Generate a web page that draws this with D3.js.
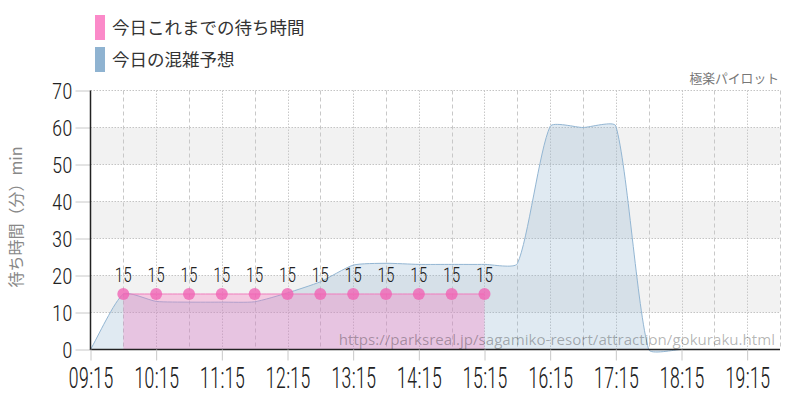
<!DOCTYPE html>
<html><head><meta charset="utf-8">
<script src="https://cdn.jsdelivr.net/npm/d3@7"></script>
<style>
body{margin:0;background:#fff}
svg{display:block}
.cond{font-family:"Roboto Condensed","Liberation Sans Narrow","DejaVu Sans Condensed",sans-serif}
.jp{font-family:"Noto Sans CJK JP","Noto Sans",sans-serif}
</style>
</head><body>
<svg id="c" width="800" height="400"></svg>
<script>
// ---- data ----
const forecastTimes = ["09:15","09:45","10:15","10:45","11:15","11:45","12:15","12:45","13:15","13:45","14:15","14:45","15:15","15:45","16:15","16:45","17:15","17:45","18:15","18:45","19:15","19:45"];
const forecastWait  = [0,15,13,12.8,12.8,12.9,15.3,18.3,22.8,23.3,23,23,23,23.2,60.3,60,60.4,0,0,0,0,0];
const actualTimes = ["09:45","10:15","10:45","11:15","11:45","12:15","12:45","13:15","13:45","14:15","14:45","15:15"];
const actualWait  = [15,15,15,15,15,15,15,15,15,15,15,15];
const xTickLabels = ["09:15","10:15","11:15","12:15","13:15","14:15","15:15","16:15","17:15","18:15","19:15"];
const gridTimes = ["09:45","10:15","10:45","11:15","11:45","12:15","12:45","13:15","13:45","14:15","14:45","15:15","15:45","16:15","16:45","17:15","17:45","18:15","18:45","19:15","19:45"];
const yTicks = [0,10,20,30,40,50,60,70];
const bands = [[10,20],[30,40],[50,60]];
const legendItems = ["今日これまでの待ち時間","今日の混雑予想"];
const legendColors = ["#fb8ac9","#8fb3d1"];
const yTitle = "待ち時間（分）min";
const brand = "極楽パイロット";
const urlText = "https://parksreal.jp/sagamiko-resort/attraction/gokuraku.html";

// ---- scales ----
const parse = d3.timeParse("%H:%M");
const L = 90.5, R = 780, T = 90.5, B = 349.5;
const x = d3.scaleTime().domain([parse("09:15"), parse("19:45")]).range([L, R]);
const y = d3.scaleLinear().domain([0, 70]).range([B, T]);
const TENSION = 0.2;

const svg = d3.select("#c");

// bands
svg.append("g").selectAll("rect").data(bands).join("rect")
  .attr("x", L).attr("width", R - L)
  .attr("y", d => y(d[1])).attr("height", d => y(d[0]) - y(d[1]))
  .attr("fill", "#f2f2f2");

// y axis ticks + labels
const yAxisG = svg.append("g").attr("transform", `translate(${L},0)`)
  .call(d3.axisLeft(y).tickValues(yTicks).tickSize(15).tickPadding(3).tickFormat(d3.format("d")));
yAxisG.select(".domain").remove();
yAxisG.selectAll(".tick line").attr("stroke", "#c8c8c8");
yAxisG.selectAll(".tick text").attr("class", "cond").attr("font-size", 21).attr("font-weight", 300).attr("fill", "#222")
  .attr("dy", null).attr("transform", "translate(0,8) scale(1,1.08)");

// horizontal grid (dotted)
svg.append("g").selectAll("line").data(yTicks).join("line")
  .attr("x1", L).attr("x2", R).attr("y1", d => y(d)).attr("y2", d => y(d))
  .attr("stroke", "#c4c4c4").attr("stroke-dasharray", "1.5,1.5");

// vertical grid
svg.append("g").selectAll("line").data(gridTimes).join("line")
  .attr("x1", d => Math.round(x(parse(d))) + 0.5).attr("x2", d => Math.round(x(parse(d))) + 0.5)
  .attr("y1", T).attr("y2", B)
  .attr("stroke", "#c8c8c8")
  .attr("stroke-dasharray", d => d.endsWith(":15") ? "1.5,1.5" : "4,3");

// Chart.js-like spline path
function splinePath(pts, tension, close) {
  const cps = pts.map((p, i) => {
    const pr = pts[i - 1] || p, nx = pts[i + 1] || p;
    const d01 = Math.hypot(p[0] - pr[0], p[1] - pr[1]);
    const d12 = Math.hypot(nx[0] - p[0], nx[1] - p[1]);
    let s01 = d01 / (d01 + d12), s12 = d12 / (d01 + d12);
    if (isNaN(s01)) s01 = 0; if (isNaN(s12)) s12 = 0;
    const fa = tension * s01, fb = tension * s12;
    return {
      prev: [p[0] - fa * (nx[0] - pr[0]), p[1] - fa * (nx[1] - pr[1])],
      next: [p[0] + fb * (nx[0] - pr[0]), p[1] + fb * (nx[1] - pr[1])]
    };
  });
  const path = d3.path();
  path.moveTo(pts[0][0], pts[0][1]);
  for (let i = 1; i < pts.length; i++)
    path.bezierCurveTo(cps[i - 1].next[0], cps[i - 1].next[1], cps[i].prev[0], cps[i].prev[1], pts[i][0], pts[i][1]);
  if (close) {
    path.lineTo(pts[pts.length - 1][0], y(0));
    path.lineTo(pts[0][0], y(0));
    path.closePath();
  }
  return path.toString();
}

const fPts = forecastTimes.map((t, i) => [x(parse(t)), y(forecastWait[i])]);
const aPts = actualTimes.map((t, i) => [x(parse(t)), y(actualWait[i])]);

// forecast (below)
svg.append("path").attr("d", splinePath(fPts, TENSION, true))
  .attr("fill", "rgba(143,179,209,0.28)");
svg.append("path").attr("d", splinePath(fPts, TENSION, false))
  .attr("fill", "none").attr("stroke", "#93b6d3").attr("stroke-width", 1);

// actual (on top)
svg.append("path").attr("d", splinePath(aPts, TENSION, true))
  .attr("fill", "rgba(250,110,185,0.3)");
svg.append("path").attr("d", splinePath(aPts, TENSION, false))
  .attr("fill", "none").attr("stroke", "#f07cbd").attr("stroke-width", 1);
svg.append("g").selectAll("circle").data(aPts).join("circle")
  .attr("cx", d => d[0]).attr("cy", d => d[1]).attr("r", 6)
  .attr("fill", "rgba(240,100,180,0.8)");
svg.append("g").selectAll("text").data(actualTimes).join("text")
  .attr("class", "cond").attr("font-weight", 300)
  .attr("transform", (d, i) => `translate(${x(parse(d))},${y(actualWait[i]) - 12}) scale(0.88,1)`)
  .attr("text-anchor", "middle").attr("font-size", 20).attr("fill", "#222")
  .text((d, i) => actualWait[i]);

// axis lines
svg.append("line").attr("x1", L).attr("x2", L).attr("y1", T).attr("y2", B + 0.5)
  .attr("stroke", "#222").attr("stroke-width", 1.5);
svg.append("line").attr("x1", L).attr("x2", R).attr("y1", B).attr("y2", B)
  .attr("stroke", "#222").attr("stroke-width", 1.5);

// x axis
const xAxisG = svg.append("g").attr("transform", `translate(0,${B})`)
  .call(d3.axisBottom(x).tickValues(xTickLabels.map(parse)).tickSize(11).tickFormat(d3.timeFormat("%H:%M")));
xAxisG.select(".domain").remove();
xAxisG.selectAll(".tick line").attr("stroke", "#c8c8c8");
xAxisG.selectAll(".tick text").attr("class", "cond").attr("font-size", 21).attr("font-weight", 300)
  .attr("fill", "#222").attr("y", 0).attr("dy", null)
  .attr("transform", "translate(0,38) scale(1,1.38)");

// watermark
svg.append("text").attr("x", 775).attr("y", 345).attr("text-anchor", "end")
  .attr("font-family", "'Open Sans','Noto Sans',sans-serif").attr("font-size", 15.1)
  .attr("fill", "rgba(0,0,0,0.3)").text(urlText);

// brand
svg.append("text").attr("class", "jp").attr("x", 779).attr("y", 82.5).attr("text-anchor", "end")
  .attr("font-size", 12.8).attr("fill", "#777").text(brand);

// y title
svg.append("text").attr("class", "jp")
  .attr("transform", "translate(22,217) rotate(-90)").attr("text-anchor", "middle")
  .attr("font-size", 16).attr("fill", "#888").text(yTitle);

// legend
const lg = svg.append("g").selectAll("g").data(legendItems).join("g")
  .attr("transform", (d, i) => `translate(95,${15 + i * 32})`);
lg.append("rect").attr("width", 10).attr("height", 25).attr("fill", (d, i) => legendColors[i]);
lg.append("text").attr("class", "jp").attr("x", 17).attr("y", 19).attr("font-size", 17.5)
  .attr("fill", "#333").text(d => d);
</script>
</body></html>
